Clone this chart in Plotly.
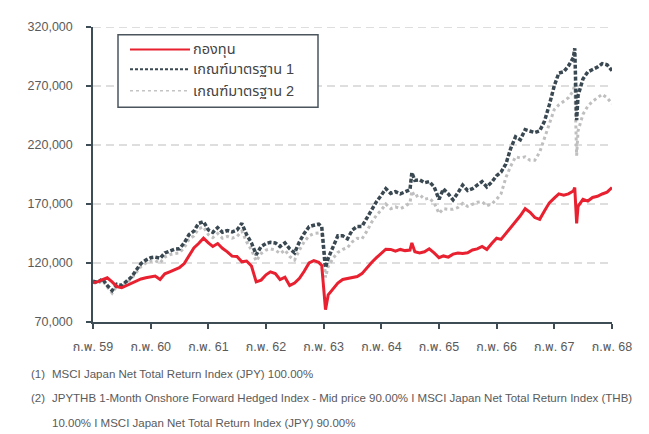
import plotly.graph_objects as go

DATES = [
    "2016-02-01", "2016-03-01", "2016-04-01", "2016-05-01", "2016-06-01", "2016-07-01",
    "2016-08-01", "2016-09-01", "2016-10-01", "2016-11-01", "2016-12-01",
    "2017-01-01", "2017-02-01", "2017-03-01", "2017-04-01", "2017-05-01", "2017-06-01",
    "2017-07-01", "2017-08-01", "2017-09-01", "2017-10-01", "2017-11-01", "2017-12-01",
    "2018-01-01", "2018-02-01", "2018-03-01", "2018-04-01", "2018-05-01", "2018-06-01",
    "2018-07-01", "2018-08-01", "2018-09-01", "2018-10-01", "2018-11-01", "2018-12-01",
    "2019-01-01", "2019-02-01", "2019-03-01", "2019-04-01", "2019-05-01", "2019-06-01",
    "2019-07-01", "2019-08-01", "2019-09-01", "2019-10-01", "2019-11-01", "2019-12-01",
    "2020-01-01", "2020-01-20", "2020-02-01", "2020-02-13", "2020-03-01", "2020-04-01",
    "2020-05-01", "2020-06-01", "2020-07-01", "2020-08-01", "2020-09-01", "2020-10-01",
    "2020-11-01", "2020-12-01",
    "2021-01-01", "2021-02-01", "2021-03-01", "2021-04-01", "2021-05-01", "2021-06-01",
    "2021-07-01", "2021-08-01", "2021-08-13", "2021-09-01", "2021-10-01", "2021-11-01",
    "2021-12-01",
    "2022-01-01", "2022-02-01", "2022-03-01", "2022-04-01", "2022-05-01", "2022-06-01",
    "2022-07-01", "2022-08-01", "2022-09-01", "2022-10-01", "2022-11-01", "2022-12-01",
    "2023-01-01", "2023-02-01", "2023-03-01", "2023-04-01", "2023-05-01", "2023-06-01",
    "2023-07-01", "2023-08-01", "2023-09-01", "2023-10-01", "2023-11-01", "2023-12-01",
    "2024-01-01", "2024-02-01", "2024-03-01", "2024-04-01", "2024-05-01", "2024-06-01",
    "2024-06-10", "2024-06-22", "2024-07-01", "2024-08-01", "2024-09-01", "2024-10-01",
    "2024-11-01", "2024-12-01",
    "2025-01-01", "2025-02-01",
]

# values in thousands
FUND = [
    103.5, 104, 106, 107.5, 104, 100, 99, 101, 102.5, 105, 106.5,
    107.5, 108.5, 109, 106, 110.8, 112.5, 114, 116, 119.5, 125.8, 132.8, 136.5,
    141, 137, 134, 136.5, 132.5, 129.5, 125.8, 125.5, 121, 121.7, 117.5, 104,
    105.5, 110, 112.5, 111, 106, 108, 101, 103, 107, 113, 120, 122,
    120.5, 118, 100, 80.5, 93, 98, 103, 106, 106.7, 107.8, 108.5, 111, 116, 120.5,
    124.5, 128, 131.7, 131.5, 130, 131.5, 130.5, 131, 137, 129.5, 128.6, 129.5, 132,
    128.6, 124.5, 126, 125, 127.5, 128.5, 128, 128.6, 131, 132, 134, 131.5,
    136.5, 141, 140, 145, 150, 155, 160, 166, 163, 158.5, 157, 164,
    171, 175, 178.6, 177.5, 178.6, 181, 184, 153.6, 168, 174, 172.5, 175.5, 176.5, 178.5,
    180, 184,
]
BM1 = [
    104.5, 103.6, 106.5, 101, 96.7, 102, 101, 105, 108, 114, 119.5,
    122.5, 124.5, 125, 124, 128.5, 130.5, 131.7, 132, 137, 144, 147, 153.6,
    155, 148, 146, 150, 146, 147.5, 146.4, 148, 153.6, 144, 137, 127,
    134, 136.5, 137.5, 137, 134, 137, 132, 128.6, 138, 145, 150.8, 152,
    153, 150.8, 135, 116, 124, 132.8, 143, 143, 140.5, 148, 151, 151, 158, 166,
    172, 177.5, 183, 179, 180.5, 178.6, 180, 182, 196.7, 190, 190.5, 188, 189,
    184.5, 174, 182.8, 178.6, 173.5, 179.5, 186, 181.5, 183, 186, 189, 184.5,
    188.5, 194, 197, 204, 217, 227, 224.5, 233, 232, 230.5, 232, 240,
    254, 270, 281, 282, 287, 294, 302, 241, 262, 276, 282, 284, 286, 289,
    288, 283,
]
BM2 = [
    103.5, 102.5, 105, 99.5, 94.5, 100.5, 99.5, 103.5, 106.5, 112, 117,
    120, 121.5, 122, 120, 125, 127, 128, 128.5, 133, 140, 143, 149,
    150.6, 144, 141.5, 145, 141, 142.5, 141, 142.5, 147, 138, 131, 121.7,
    128, 131, 132, 131, 128, 131, 125.5, 122.5, 131, 138, 143, 145,
    145.5, 145, 128, 107.8, 117, 124, 129, 131.5, 133, 138, 141, 140.5, 147, 154.5,
    160.5, 165, 170, 166, 167.5, 166, 168, 171, 181, 176, 178, 174, 175,
    171, 162, 166, 165.5, 165.5, 167, 170.5, 168, 169.5, 171.5, 172, 168.5,
    170, 174, 178.6, 192.5, 202, 210, 209, 210, 207, 207, 214, 226,
    238, 250, 254, 257, 260, 266, 272, 211, 232, 246, 253, 257, 260, 263,
    260, 255,
]

TICK_DATES = ["2016-02-01", "2017-02-01", "2018-02-01", "2019-02-01", "2020-02-01",
              "2021-02-01", "2022-02-01", "2023-02-01", "2024-02-01", "2025-02-01"]
TICK_TEXT = ["ก.พ. 59", "ก.พ. 60", "ก.พ. 61", "ก.พ. 62", "ก.พ. 63",
             "ก.พ. 64", "ก.พ. 65", "ก.พ. 66", "ก.พ. 67", "ก.พ. 68"]
Y_TICKS = [70000, 120000, 170000, 220000, 270000, 320000]

SERIES_NAMES = ["กองทุน", "เกณฑ์มาตรฐาน 1", "เกณฑ์มาตรฐาน 2"]
FOOTNOTES = [
    ("(1)", "MSCI Japan Net Total Return Index (JPY) 100.00%"),
    ("(2)", "JPYTHB 1-Month Onshore Forward Hedged Index - Mid price 90.00% I MSCI Japan Net Total Return Index (THB)"),
    ("", "10.00% I MSCI Japan Net Total Return Index (JPY) 90.00%"),
]

FONT = "Liberation Sans, Arial, Noto Sans Thai, Loma, Garuda, Noto Sans, sans-serif"
RED = "#e8202f"
DARK = "#3a4852"
LIGHT = "#bfbfbf"
AXIS = "#3e4c56"
TXT = "#5a5a5a"

fig = go.Figure()
fig.add_trace(go.Scatter(x=DATES, y=[v * 1000 for v in BM2], mode="lines",
                         line=dict(color=LIGHT, width=3, dash="dot"), name=SERIES_NAMES[2]))
fig.add_trace(go.Scatter(x=DATES, y=[v * 1000 for v in BM1], mode="lines",
                         line=dict(color=DARK, width=3.5, dash="4px,2px"), name=SERIES_NAMES[1]))
fig.add_trace(go.Scatter(x=DATES, y=[v * 1000 for v in FUND], mode="lines",
                         line=dict(color=RED, width=3), name=SERIES_NAMES[0]))

# page offset (body margin) and plot area in page pixels: x 93..612, y 21..322
OFF = 8
W, H = 649 - OFF, 434 - OFF
L, R, T, B = 93 - OFF, 612 - OFF, 21 - OFF, 322 - OFF


def px(xp):
    return (xp - OFF - L) / (R - L)


def py(yp):
    return (B - (yp - OFF)) / (B - T)


shapes = []
for v in Y_TICKS[1:]:
    shapes.append(dict(type="line", xref="paper", yref="y", x0=0, x1=1, y0=v, y1=v,
                       line=dict(color="#d3d3d3", width=1.5, dash="8px,5px"), layer="below"))
shapes.append(dict(type="rect", xref="paper", yref="paper", x0=px(118), x1=px(318),
                   y0=py(103), y1=py(29), line=dict(color="#4a555d", width=1.5),
                   fillcolor="white"))
legend_styles = [
    dict(color=RED, width=2, dash="solid"),
    dict(color=DARK, width=2, dash="3px,2px"),
    dict(color="#c4c4c4", width=1.5, dash="dot"),
]
legend_y = [44, 64, 86]
annotations = []
for name, st, yy in zip(SERIES_NAMES, legend_styles, legend_y):
    shapes.append(dict(type="line", xref="paper", yref="paper", x0=px(130), x1=px(190),
                       y0=py(yy), y1=py(yy), line=st))
    annotations.append(dict(xref="paper", yref="paper", x=px(191), y=py(yy), text=name,
                            showarrow=False, xanchor="left", yanchor="middle",
                            font=dict(family=FONT, size=14.5, color="#444444")))

foot_y = [375, 400, 425]
for (num, txt), yy in zip(FOOTNOTES, foot_y):
    if num:
        annotations.append(dict(xref="paper", yref="paper", x=px(29), y=py(yy), text=num,
                                showarrow=False, xanchor="left", yanchor="middle",
                                font=dict(family=FONT, size=11.5, color=TXT)))
    annotations.append(dict(xref="paper", yref="paper", x=px(50), y=py(yy), text=txt,
                            showarrow=False, xanchor="left", yanchor="middle",
                            font=dict(family=FONT, size=11.5, color=TXT)))

fig.update_layout(
    width=W, height=H,
    margin=dict(l=L, r=W - R, t=T, b=H - B, pad=0),
    paper_bgcolor="white", plot_bgcolor="white",
    showlegend=False,
    shapes=shapes, annotations=annotations,
    font=dict(family=FONT, size=12, color=TXT),
)
fig.update_xaxes(
    type="date", range=["2016-02-01", "2025-02-01"],
    tickvals=TICK_DATES, ticktext=TICK_TEXT,
    showgrid=False, zeroline=False,
    showline=True, linecolor=AXIS, linewidth=1.5,
    ticks="outside", ticklen=5, tickcolor=AXIS, tickwidth=1.5,
    tickfont=dict(family=FONT, size=12.5, color=TXT), ticklabelstandoff=7,
)
fig.update_yaxes(
    range=[70000, 320000], tickvals=Y_TICKS, tickformat=",",
    showgrid=False, zeroline=False,
    showline=True, linecolor=AXIS, linewidth=1.5,
    ticks="outside", ticklen=5, tickcolor=AXIS, tickwidth=1.5,
    tickfont=dict(family=FONT, size=12.5, color=TXT), ticklabelstandoff=11,
)

fig.write_html("out.html")
